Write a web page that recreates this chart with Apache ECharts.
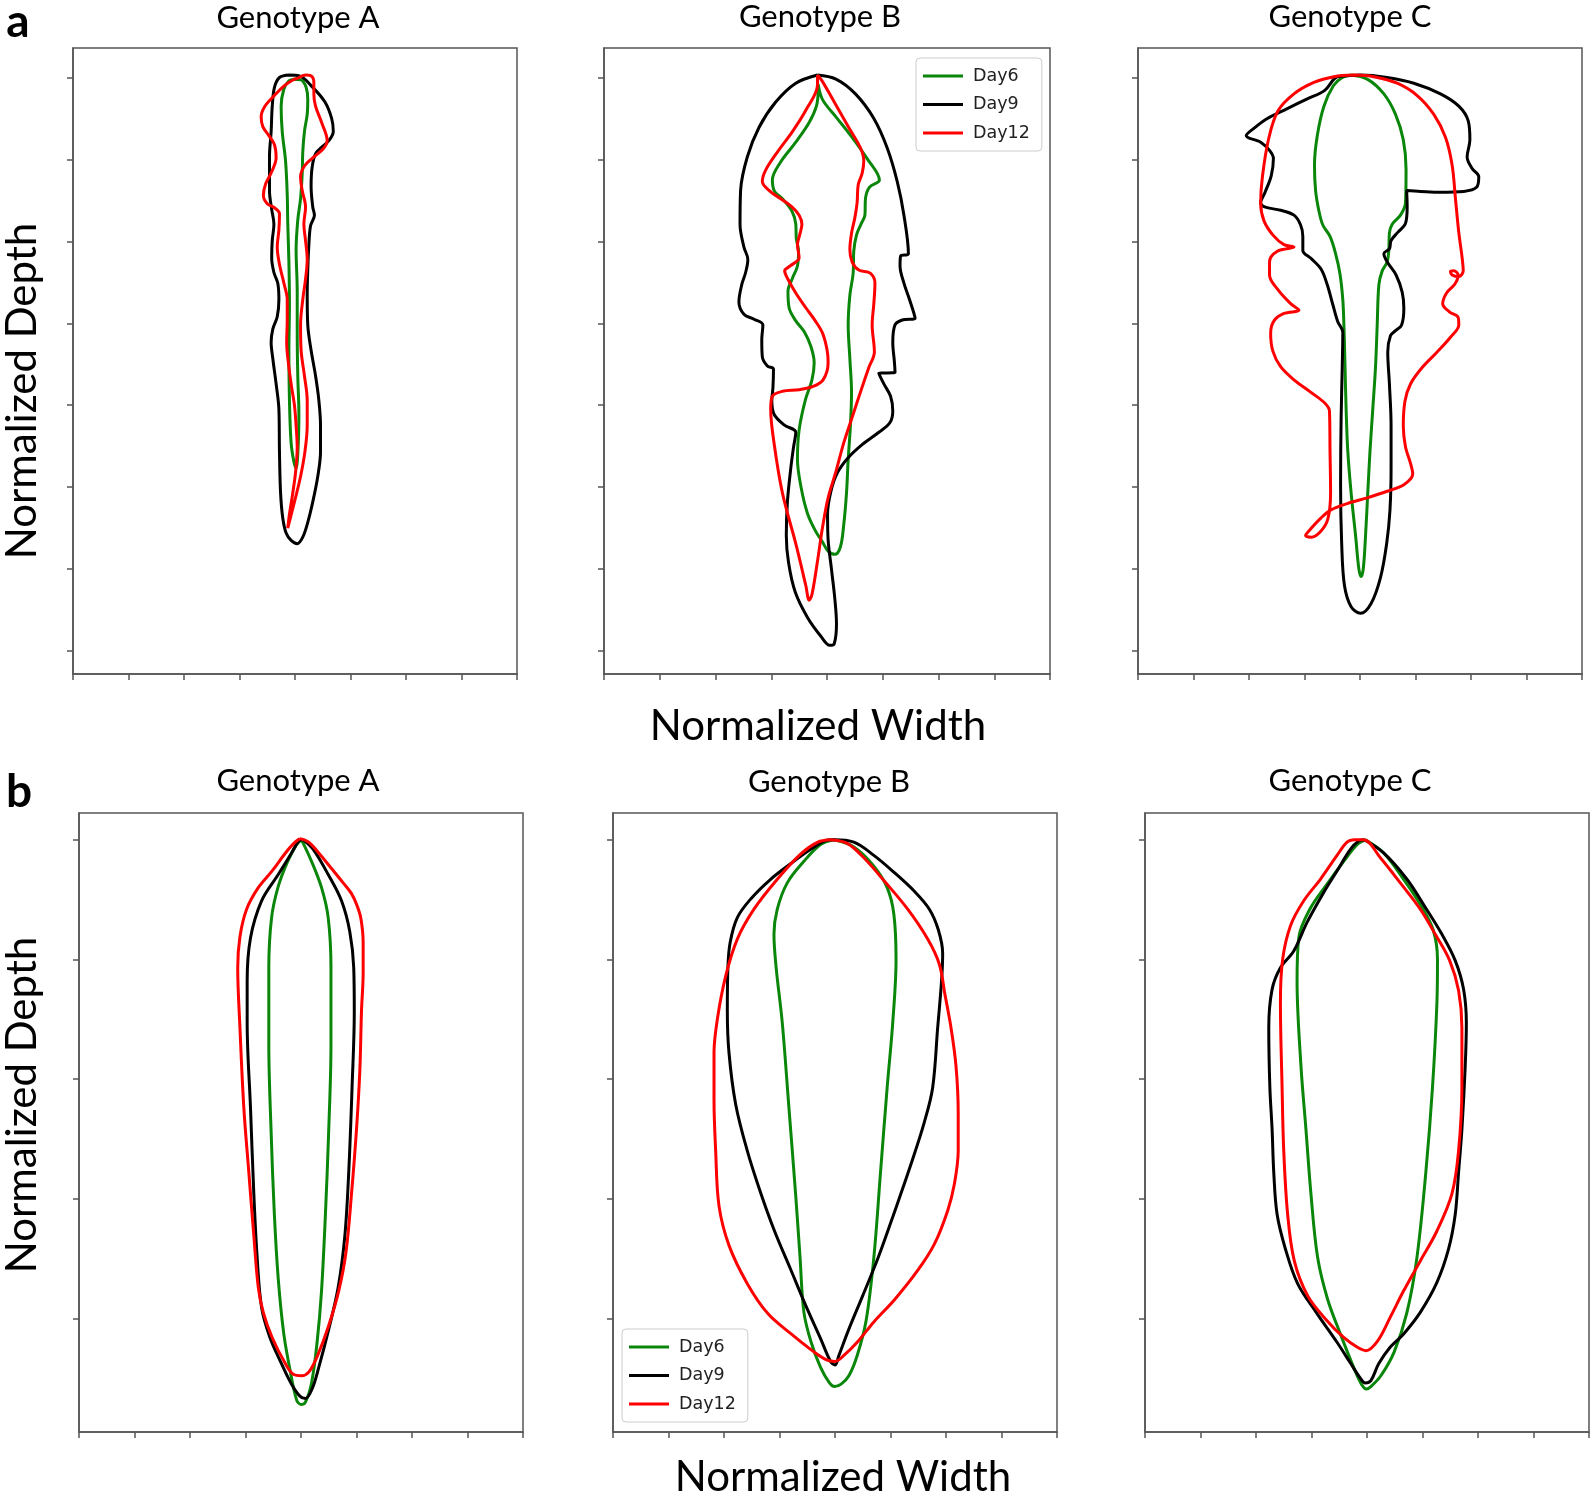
<!DOCTYPE html>
<html>
<head>
<meta charset="utf-8">
<script src="https://cdn.jsdelivr.net/npm/echarts@6/dist/echarts.min.js"></script>
<style>
html,body{margin:0;padding:0;background:#fff;}
#chart{width:1595px;height:1495px;}
</style>
</head>
<body>
<div id="chart"></div>
<script>
// ---------------- DATA (Normalized Width, Normalized Depth) ----------------
const seriesNames = ['Day6', 'Day9', 'Day12'];
const panelTitles = ['Genotype A', 'Genotype B', 'Genotype C', 'Genotype A', 'Genotype B', 'Genotype C'];
const rowLabels = ['a', 'b'];
const xAxisTitle = 'Normalized Width';
const yAxisTitle = 'Normalized Depth';
const depthTicksA = [0, 1, 2, 3, 4, 5, 6, 7];
const depthTicksB = [0, 1, 2, 3, 4];

// Row a, Genotype A
const aA_day6 = [[-0.01,0.02],[0.11,0.03],[0.20,0.12],[0.23,0.27],[0.22,0.45],[0.17,0.66],[0.14,0.91],[0.13,1.17],[0.10,1.48],[0.05,1.74],[0.02,2.10],[0.04,2.61],[0.04,3.12],[0.05,3.64],[0.07,4.10],[0.06,4.46],[0.02,4.77],[-0.02,4.69],[-0.07,4.46],[-0.10,3.94],[-0.11,3.33],[-0.10,2.76],[-0.11,2.25],[-0.13,1.79],[-0.14,1.43],[-0.17,1.02],[-0.23,0.66],[-0.25,0.35],[-0.20,0.14],[-0.11,0.04]];
const aA_day9 = [[-0.10,-0.03],[0.08,-0.02],[0.32,0.12],[0.54,0.30],[0.66,0.50],[0.69,0.66],[0.61,0.77],[0.38,0.92],[0.31,1.09],[0.29,1.33],[0.32,1.58],[0.35,1.68],[0.28,1.81],[0.25,2.04],[0.23,2.35],[0.22,2.66],[0.23,3.02],[0.29,3.33],[0.37,3.64],[0.43,3.94],[0.46,4.25],[0.46,4.56],[0.41,4.87],[0.32,5.18],[0.23,5.43],[0.14,5.61],[0.04,5.69],[-0.07,5.65],[-0.16,5.56],[-0.22,5.38],[-0.26,5.07],[-0.28,4.56],[-0.29,4.05],[-0.34,3.74],[-0.40,3.43],[-0.43,3.23],[-0.40,3.07],[-0.32,2.92],[-0.29,2.71],[-0.31,2.51],[-0.38,2.38],[-0.42,2.20],[-0.41,1.99],[-0.38,1.79],[-0.42,1.61],[-0.46,1.38],[-0.46,0.97],[-0.43,0.66],[-0.41,0.35],[-0.37,0.12],[-0.28,0.00]];
const aA_day12 = [[0.05,0.01],[0.20,-0.03],[0.31,-0.01],[0.34,0.07],[0.34,0.20],[0.37,0.35],[0.48,0.55],[0.58,0.77],[0.51,0.87],[0.32,0.98],[0.17,1.08],[0.10,1.21],[0.13,1.38],[0.19,1.58],[0.16,1.79],[0.19,1.99],[0.22,2.22],[0.19,2.46],[0.14,2.71],[0.10,3.02],[0.11,3.33],[0.17,3.64],[0.22,3.94],[0.22,4.25],[0.18,4.56],[0.10,4.87],[-0.01,5.18],[-0.13,5.50],[-0.10,5.33],[-0.04,5.07],[0.01,4.82],[0.04,4.51],[0.02,4.25],[-0.01,4.00],[-0.07,3.74],[-0.12,3.48],[-0.15,3.23],[-0.14,2.97],[-0.14,2.71],[-0.20,2.51],[-0.28,2.28],[-0.32,2.07],[-0.29,1.86],[-0.28,1.66],[-0.37,1.59],[-0.50,1.54],[-0.57,1.44],[-0.53,1.30],[-0.42,1.15],[-0.34,0.98],[-0.37,0.82],[-0.47,0.71],[-0.58,0.60],[-0.61,0.48],[-0.55,0.36],[-0.40,0.24],[-0.19,0.10],[-0.04,0.03]];

// Row a, Genotype B
const aB_day6 = [[-0.16,0.08],[-0.08,0.27],[0.16,0.48],[0.45,0.73],[0.72,0.99],[0.94,1.25],[0.76,1.34],[0.69,1.48],[0.68,1.68],[0.61,1.79],[0.53,1.92],[0.48,2.12],[0.47,2.38],[0.41,2.66],[0.38,3.02],[0.41,3.43],[0.44,3.84],[0.42,4.25],[0.38,4.66],[0.35,5.07],[0.30,5.46],[0.24,5.73],[0.14,5.82],[0.02,5.78],[-0.08,5.67],[-0.21,5.53],[-0.35,5.32],[-0.46,5.02],[-0.53,4.66],[-0.50,4.30],[-0.39,3.94],[-0.27,3.69],[-0.23,3.48],[-0.29,3.28],[-0.41,3.10],[-0.56,2.97],[-0.68,2.81],[-0.70,2.61],[-0.62,2.45],[-0.53,2.30],[-0.51,2.12],[-0.55,1.97],[-0.56,1.79],[-0.63,1.63],[-0.80,1.48],[-0.94,1.39],[-0.98,1.25],[-0.84,1.04],[-0.56,0.79],[-0.32,0.55],[-0.19,0.35],[-0.16,0.17]];
const aB_day9 = [[-0.17,-0.03],[0.16,0.02],[0.51,0.20],[0.84,0.50],[1.08,0.86],[1.26,1.27],[1.38,1.68],[1.46,2.15],[1.32,2.18],[1.31,2.30],[1.38,2.51],[1.48,2.71],[1.58,2.94],[1.35,2.96],[1.22,3.02],[1.18,3.23],[1.21,3.48],[1.22,3.60],[0.93,3.61],[1.02,3.74],[1.14,3.89],[1.18,4.07],[1.13,4.21],[0.93,4.33],[0.63,4.48],[0.38,4.64],[0.19,4.82],[0.07,5.05],[0.01,5.33],[0.02,5.64],[0.08,6.00],[0.14,6.36],[0.17,6.67],[0.13,6.91],[0.05,6.93],[-0.11,6.82],[-0.35,6.59],[-0.57,6.28],[-0.69,5.92],[-0.73,5.59],[-0.71,5.18],[-0.65,4.77],[-0.60,4.51],[-0.56,4.33],[-0.77,4.24],[-0.95,4.11],[-0.99,3.94],[-0.97,3.79],[-0.96,3.56],[-1.07,3.52],[-1.16,3.41],[-1.17,3.20],[-1.15,3.02],[-1.31,2.95],[-1.49,2.89],[-1.58,2.74],[-1.53,2.53],[-1.46,2.38],[-1.42,2.22],[-1.49,2.07],[-1.56,1.79],[-1.55,1.38],[-1.43,0.97],[-1.22,0.61],[-0.92,0.30],[-0.56,0.07]];
const aB_day12 = [[-0.17,-0.03],[-0.08,0.05],[0.13,0.30],[0.39,0.61],[0.60,0.86],[0.66,1.02],[0.63,1.17],[0.56,1.31],[0.54,1.53],[0.50,1.71],[0.44,1.90],[0.41,2.10],[0.45,2.25],[0.57,2.35],[0.78,2.39],[0.86,2.51],[0.84,2.76],[0.81,3.02],[0.85,3.35],[0.75,3.54],[0.60,3.84],[0.45,4.15],[0.30,4.46],[0.16,4.81],[0.02,5.13],[-0.08,5.49],[-0.17,5.90],[-0.27,6.31],[-0.32,6.38],[-0.38,6.20],[-0.56,5.69],[-0.80,5.07],[-0.95,4.46],[-1.01,4.05],[-0.98,3.89],[-0.80,3.83],[-0.50,3.81],[-0.25,3.77],[-0.07,3.69],[0.02,3.48],[0.00,3.32],[-0.08,3.12],[-0.21,2.97],[-0.38,2.81],[-0.56,2.63],[-0.71,2.45],[-0.76,2.36],[-0.66,2.30],[-0.50,2.20],[-0.53,2.04],[-0.49,1.92],[-0.45,1.79],[-0.50,1.68],[-0.63,1.58],[-0.83,1.48],[-1.02,1.39],[-1.16,1.27],[-1.10,1.13],[-0.89,0.91],[-0.62,0.66],[-0.38,0.40],[-0.17,0.09]];

// Row a, Genotype C
const aC_day6 = [[-0.17,-0.03],[0.13,0.02],[0.43,0.20],[0.64,0.45],[0.78,0.76],[0.83,1.12],[0.82,1.53],[0.73,1.68],[0.58,1.79],[0.53,1.90],[0.52,2.10],[0.49,2.25],[0.40,2.36],[0.34,2.53],[0.31,3.02],[0.28,3.53],[0.23,4.05],[0.18,4.56],[0.14,5.07],[0.10,5.59],[0.06,5.99],[0.02,6.09],[-0.02,6.00],[-0.08,5.59],[-0.16,5.07],[-0.22,4.56],[-0.25,4.05],[-0.27,3.53],[-0.29,3.02],[-0.31,2.71],[-0.36,2.40],[-0.44,2.15],[-0.54,1.94],[-0.67,1.80],[-0.74,1.63],[-0.80,1.38],[-0.82,1.07],[-0.77,0.71],[-0.65,0.35],[-0.48,0.10],[-0.32,0.00]];
const aC_day9 = [[-0.41,-0.01],[0.01,-0.03],[0.49,0.00],[0.97,0.07],[1.45,0.20],[1.78,0.35],[1.95,0.53],[1.98,0.76],[1.93,0.97],[2.02,1.11],[2.14,1.21],[2.10,1.34],[1.87,1.39],[1.45,1.40],[1.09,1.39],[0.84,1.38],[0.85,1.58],[0.82,1.78],[0.68,1.89],[0.56,1.99],[0.53,2.09],[0.43,2.15],[0.50,2.26],[0.65,2.41],[0.76,2.62],[0.79,2.82],[0.75,3.02],[0.64,3.09],[0.55,3.15],[0.50,3.35],[0.53,3.74],[0.56,4.25],[0.56,4.77],[0.54,5.28],[0.48,5.69],[0.37,6.10],[0.20,6.42],[0.01,6.54],[-0.16,6.46],[-0.28,6.20],[-0.33,5.69],[-0.35,4.97],[-0.34,4.15],[-0.32,3.53],[-0.31,3.11],[-0.40,2.98],[-0.49,2.77],[-0.59,2.53],[-0.70,2.34],[-0.88,2.21],[-1.03,2.11],[-1.03,1.94],[-1.07,1.80],[-1.19,1.68],[-1.43,1.62],[-1.72,1.58],[-1.79,1.53],[-1.71,1.40],[-1.60,1.20],[-1.56,0.99],[-1.63,0.89],[-1.79,0.79],[-2.05,0.71],[-1.93,0.63],[-1.67,0.50],[-1.31,0.38],[-0.95,0.26],[-0.64,0.16],[-0.47,0.02]];
const aC_day12 = [[-0.11,-0.03],[0.25,-0.01],[0.67,0.07],[1.03,0.22],[1.33,0.45],[1.54,0.73],[1.66,1.07],[1.72,1.48],[1.78,1.89],[1.84,2.20],[1.86,2.36],[1.78,2.43],[1.66,2.41],[1.63,2.37],[1.69,2.36],[1.77,2.41],[1.71,2.52],[1.56,2.63],[1.49,2.76],[1.61,2.86],[1.77,2.93],[1.78,3.02],[1.63,3.17],[1.39,3.35],[1.12,3.54],[0.91,3.74],[0.81,3.95],[0.78,4.25],[0.82,4.51],[0.91,4.71],[0.95,4.84],[0.79,4.97],[0.49,5.05],[0.13,5.13],[-0.23,5.20],[-0.53,5.28],[-0.71,5.38],[-0.89,5.51],[-0.98,5.59],[-0.88,5.61],[-0.71,5.54],[-0.58,5.39],[-0.53,5.07],[-0.54,4.56],[-0.55,4.07],[-0.64,3.97],[-0.89,3.84],[-1.19,3.69],[-1.43,3.53],[-1.57,3.34],[-1.61,3.12],[-1.55,2.97],[-1.37,2.88],[-1.10,2.84],[-1.25,2.76],[-1.48,2.59],[-1.63,2.41],[-1.63,2.25],[-1.49,2.12],[-1.19,2.07],[-1.37,2.04],[-1.56,1.93],[-1.73,1.75],[-1.79,1.53],[-1.76,1.22],[-1.65,0.76],[-1.48,0.41],[-1.19,0.20],[-0.83,0.06],[-0.47,-0.01]];

// Row b, Genotype A
const bA_day6 = [[0.01,0.00],[0.19,0.18],[0.37,0.40],[0.49,0.65],[0.54,1.07],[0.54,1.71],[0.50,2.42],[0.44,3.13],[0.37,3.77],[0.29,4.20],[0.19,4.54],[0.08,4.70],[0.00,4.72],[-0.08,4.68],[-0.19,4.45],[-0.31,4.13],[-0.41,3.67],[-0.48,3.13],[-0.54,2.42],[-0.58,1.71],[-0.58,1.07],[-0.53,0.65],[-0.41,0.39],[-0.24,0.18],[-0.08,0.04]];
const bA_day9 = [[0.04,0.00],[0.22,0.08],[0.49,0.29],[0.73,0.51],[0.88,0.77],[0.95,1.07],[0.96,1.43],[0.92,2.07],[0.86,2.78],[0.79,3.31],[0.67,3.74],[0.50,4.09],[0.32,4.41],[0.20,4.59],[0.08,4.67],[-0.02,4.65],[-0.17,4.55],[-0.35,4.38],[-0.56,4.16],[-0.71,3.91],[-0.79,3.49],[-0.85,2.96],[-0.91,2.24],[-0.97,1.53],[-0.97,1.18],[-0.91,0.82],[-0.71,0.51],[-0.41,0.29],[-0.17,0.11],[-0.04,0.01]];
const bA_day12 = [[-0.02,-0.01],[0.14,0.02],[0.32,0.11],[0.55,0.24],[0.76,0.36],[0.91,0.45],[1.01,0.55],[1.08,0.66],[1.12,0.86],[1.12,1.11],[1.09,1.43],[1.06,1.93],[1.00,2.42],[0.91,2.96],[0.81,3.45],[0.68,3.77],[0.50,4.06],[0.30,4.31],[0.14,4.45],[0.01,4.48],[-0.13,4.47],[-0.28,4.38],[-0.52,4.16],[-0.68,3.95],[-0.77,3.74],[-0.85,3.31],[-0.94,2.78],[-1.03,2.24],[-1.10,1.57],[-1.14,1.07],[-1.10,0.81],[-0.98,0.58],[-0.77,0.40],[-0.52,0.26],[-0.28,0.11],[-0.13,0.03]];

// Row b, Genotype B
const bB_day6 = [[-0.02,0.00],[0.34,0.06],[0.70,0.22],[0.94,0.40],[1.06,0.62],[1.10,1.00],[1.04,1.53],[0.94,2.07],[0.82,2.78],[0.70,3.49],[0.56,4.02],[0.40,4.31],[0.25,4.48],[0.11,4.55],[-0.01,4.57],[-0.10,4.54],[-0.26,4.41],[-0.43,4.20],[-0.56,3.95],[-0.63,3.49],[-0.71,2.96],[-0.83,2.24],[-0.95,1.53],[-1.06,1.07],[-1.10,0.79],[-1.04,0.58],[-0.86,0.36],[-0.56,0.18],[-0.26,0.04]];
const bB_day9 = [[-0.02,0.00],[0.34,0.02],[0.70,0.13],[1.06,0.27],[1.43,0.43],[1.70,0.58],[1.86,0.75],[1.94,0.95],[1.92,1.18],[1.85,1.57],[1.76,2.07],[1.61,2.36],[1.37,2.71],[1.08,3.10],[0.78,3.49],[0.50,3.81],[0.25,4.09],[0.07,4.31],[0.00,4.39],[-0.08,4.36],[-0.26,4.17],[-0.53,3.89],[-0.80,3.59],[-1.09,3.27],[-1.34,2.95],[-1.58,2.60],[-1.79,2.21],[-1.91,1.78],[-1.94,1.43],[-1.93,1.07],[-1.89,0.86],[-1.76,0.65],[-1.51,0.49],[-1.16,0.33],[-0.80,0.20],[-0.44,0.08],[-0.19,0.01]];
const bB_day12 = [[-0.08,0.00],[0.22,0.03],[0.52,0.15],[0.88,0.34],[1.31,0.58],[1.67,0.83],[1.88,1.04],[1.98,1.29],[2.09,1.57],[2.18,1.89],[2.22,2.28],[2.22,2.60],[2.15,2.88],[2.03,3.10],[1.79,3.38],[1.49,3.60],[1.08,3.84],[0.70,4.03],[0.40,4.20],[0.16,4.31],[0.00,4.36],[-0.14,4.35],[-0.38,4.28],[-0.79,4.13],[-1.21,3.96],[-1.58,3.71],[-1.91,3.39],[-2.09,3.06],[-2.15,2.60],[-2.18,2.17],[-2.18,1.78],[-2.12,1.50],[-1.97,1.14],[-1.76,0.83],[-1.46,0.58],[-1.04,0.33],[-0.62,0.12],[-0.31,0.02]];

// Row b, Genotype C
const bC_day6 = [[-0.03,0.00],[0.30,0.11],[0.66,0.33],[0.96,0.54],[1.19,0.75],[1.27,1.00],[1.26,1.36],[1.18,2.07],[1.06,2.78],[0.90,3.49],[0.72,3.95],[0.49,4.28],[0.25,4.48],[0.07,4.57],[-0.01,4.59],[-0.10,4.55],[-0.24,4.41],[-0.48,4.13],[-0.71,3.84],[-0.89,3.49],[-1.01,2.96],[-1.10,2.42],[-1.19,1.89],[-1.26,1.18],[-1.23,0.82],[-1.03,0.58],[-0.72,0.37],[-0.42,0.18],[-0.18,0.04]];
const bC_day9 = [[-0.05,0.00],[0.30,0.11],[0.72,0.33],[1.03,0.55],[1.35,0.79],[1.59,1.01],[1.74,1.25],[1.79,1.53],[1.77,1.89],[1.71,2.42],[1.65,2.78],[1.59,3.13],[1.47,3.42],[1.26,3.70],[0.96,3.95],[0.66,4.13],[0.42,4.24],[0.21,4.38],[0.07,4.52],[-0.03,4.54],[-0.12,4.50],[-0.29,4.38],[-0.54,4.20],[-0.90,3.96],[-1.25,3.71],[-1.47,3.42],[-1.62,3.13],[-1.68,2.78],[-1.71,2.42],[-1.75,2.07],[-1.77,1.57],[-1.71,1.25],[-1.56,1.07],[-1.32,0.93],[-1.08,0.69],[-0.78,0.44],[-0.54,0.26],[-0.30,0.08],[-0.15,0.01]];
const bC_day12 = [[-0.24,0.00],[-0.06,0.00],[0.24,0.15],[0.60,0.36],[0.96,0.58],[1.23,0.79],[1.49,1.01],[1.65,1.26],[1.71,1.57],[1.71,2.07],[1.65,2.60],[1.53,2.96],[1.26,3.27],[0.96,3.52],[0.66,3.77],[0.42,3.99],[0.19,4.19],[-0.02,4.27],[-0.18,4.24],[-0.42,4.16],[-0.72,4.02],[-1.07,3.81],[-1.31,3.52],[-1.43,3.13],[-1.50,2.60],[-1.53,2.07],[-1.56,1.36],[-1.52,1.00],[-1.38,0.72],[-1.14,0.51],[-0.84,0.33],[-0.54,0.13],[-0.36,0.02]];

// ---------------- LAYOUT / STYLE ----------------
const panelData = [
  [aA_day6, aA_day9, aA_day12],
  [aB_day6, aB_day9, aB_day12],
  [aC_day6, aC_day9, aC_day12],
  [bA_day6, bA_day9, bA_day12],
  [bB_day6, bB_day9, bB_day12],
  [bC_day6, bC_day9, bC_day12]
];
const colors = ['#0a870a', '#000000', '#ff0000'];
const grids = [
  {left: 73, top: 48, width: 444, height: 626},
  {left: 604, top: 48, width: 446, height: 626},
  {left: 1138, top: 48, width: 444, height: 626},
  {left: 79, top: 813, width: 444, height: 619},
  {left: 613, top: 813, width: 444, height: 619},
  {left: 1145, top: 813, width: 444, height: 619}
];
const yRanges = [[-0.36, 7.28], [-0.224, 4.95]];
const frameColor = '#555';

const option = {
  animation: false,
  backgroundColor: '#ffffff',
  grid: grids.map(g => Object.assign({show: true, borderColor: frameColor, borderWidth: 1.5, backgroundColor: 'transparent'}, g)),
  xAxis: grids.map((g, i) => ({
    gridIndex: i, type: 'value', min: -4, max: 4, interval: 1,
    axisLine: {show: true, onZero: false, lineStyle: {color: frameColor, width: 1.5}},
    axisTick: {show: true, length: 6, lineStyle: {color: frameColor, width: 1.5}},
    axisLabel: {show: false},
    splitLine: {show: false}
  })),
  yAxis: grids.map((g, i) => {
    const row = i < 3 ? 0 : 1;
    return {
      gridIndex: i, type: 'value', inverse: true,
      min: yRanges[row][0], max: yRanges[row][1],
      axisLine: {show: true, onZero: false, lineStyle: {color: frameColor, width: 1.5}},
      axisTick: {show: true, length: 6, customValues: row === 0 ? depthTicksA : depthTicksB, lineStyle: {color: frameColor, width: 1.5}},
      axisLabel: {show: false},
      splitLine: {show: false}
    };
  }),
  legend: [
    {left: 916, top: 58, orient: 'vertical', data: seriesNames, icon: 'rect', itemWidth: 40, itemHeight: 3,
     itemGap: 8.5, padding: [8, 12, 8, 7], borderColor: '#cccccc', borderWidth: 1, borderRadius: 4,
     backgroundColor: 'rgba(255,255,255,0.8)', selectedMode: false,
     textStyle: {fontFamily: 'DejaVu Sans', fontSize: 17.5, color: '#222', lineHeight: 20, padding: [0, 0, 0, 5]}},
    {left: 622, top: 1329, orient: 'vertical', data: seriesNames, icon: 'rect', itemWidth: 40, itemHeight: 3,
     itemGap: 8.5, padding: [8, 12, 8, 7], borderColor: '#cccccc', borderWidth: 1, borderRadius: 4,
     backgroundColor: 'rgba(255,255,255,0.8)', selectedMode: false,
     textStyle: {fontFamily: 'DejaVu Sans', fontSize: 17.5, color: '#222', lineHeight: 20, padding: [0, 0, 0, 5]}}
  ],
  series: [],
  graphic: []
};

panelData.forEach((curves, i) => {
  curves.forEach((pts, k) => {
    option.series.push({
      type: 'line', name: seriesNames[k], xAxisIndex: i, yAxisIndex: i,
      data: pts.concat([pts[0]]),
      showSymbol: false, symbol: 'none', smooth: 0.35, silent: true,
      lineStyle: {color: colors[k], width: 3},
      itemStyle: {color: colors[k]}
    });
  });
});

const txt = (x, y, text, font, extra) => Object.assign({
  type: 'text', x: x, y: y, silent: true,
  style: {text: text, font: font, fill: '#000', textAlign: 'center', textVerticalAlign: 'middle', align: 'center', verticalAlign: 'middle'}
}, extra || {});

const titlePos = [[298, 18], [820, 17], [1350, 17], [298, 781], [829, 782], [1350, 781]];
panelTitles.forEach((t, i) => option.graphic.push(txt(titlePos[i][0], titlePos[i][1], t, '31px Lato')));
option.graphic.push(txt(18, 22, rowLabels[0], 'bold 46px Lato'));
option.graphic.push(txt(19, 792, rowLabels[1], 'bold 46px Lato'));
option.graphic.push(txt(818, 726, xAxisTitle, '42px Lato'));
option.graphic.push(txt(843, 1477, xAxisTitle, '42px Lato'));
option.graphic.push(txt(22, 391, yAxisTitle, '42px Lato', {rotation: Math.PI / 2}));
option.graphic.push(txt(22, 1105, yAxisTitle, '42px Lato', {rotation: Math.PI / 2}));

const chart = echarts.init(document.getElementById('chart'), null, {renderer: 'canvas'});
chart.setOption(option);
</script>
</body>
</html>
